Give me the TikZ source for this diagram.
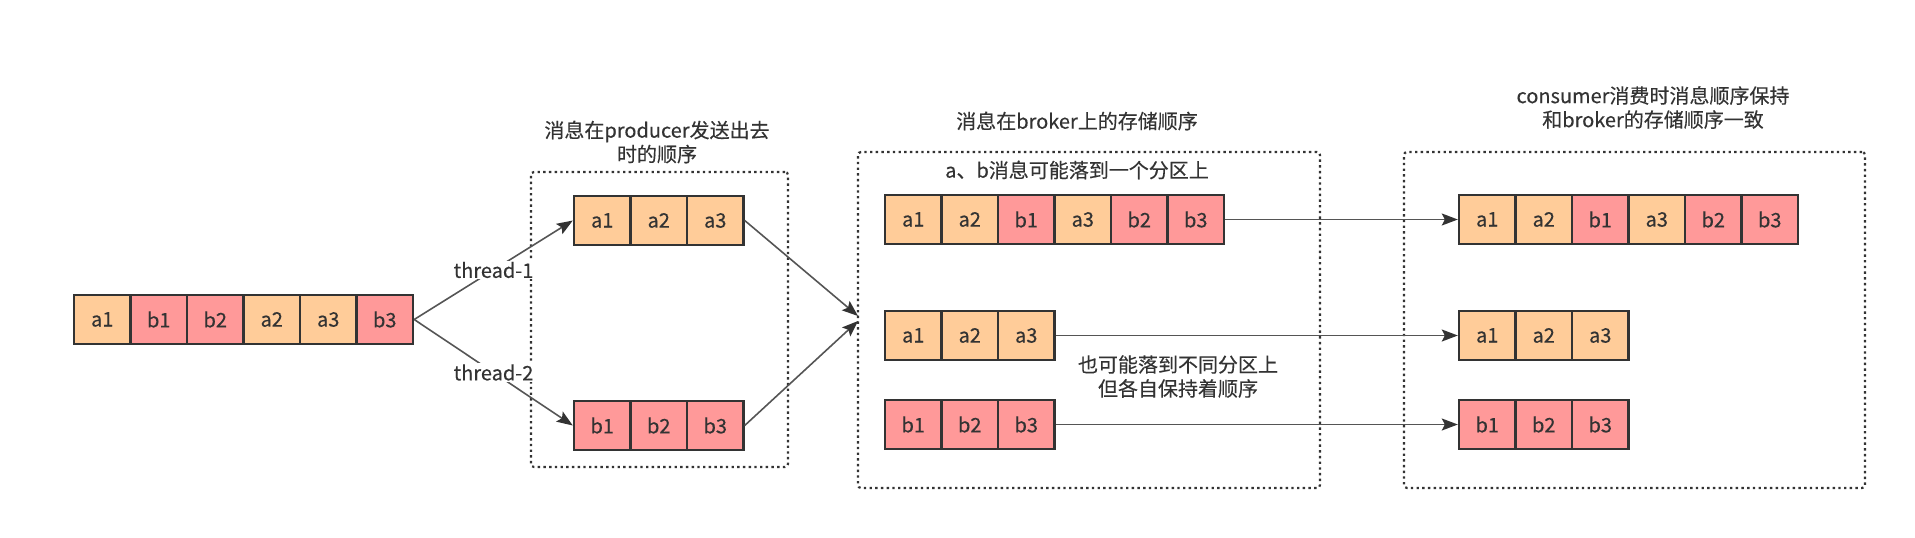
\documentclass[tikz,border=0pt]{standalone}
\usepackage{fontspec}
\setmainfont{Noto Sans CJK SC}[FakeBold=0.3]
\usetikzlibrary{arrows.meta}
\definecolor{ca}{HTML}{FFCC99}
\definecolor{cb}{HTML}{FF9999}
\definecolor{ink}{HTML}{333333}
\definecolor{edge}{HTML}{555555}

% a row of message cells: prefix, left x, top y, list of colour/label
\newcommand\cellrow[4]{%
  \foreach \t/\lab [count=\i] in {#4} {
    \node[cell, fill=\t] (#1\i) at ({#2+(\i-0.5)*56.5}, {#3+24.5}) {\lab};
  }%
}

\begin{document}
\begin{tikzpicture}[x=1pt, y=-1pt,
  cell/.style={draw=ink, line width=2.4pt, minimum width=56.5pt, minimum height=49pt,
    inner sep=0pt, text=ink, font=\fontsize{20}{24}\selectfont},
  zone/.style={draw=ink, line width=2.2pt, dash pattern=on 2.4pt off 3.3pt,
    rounded corners=3pt, inner sep=0pt},
  lbl/.style={text=ink, font=\fontsize{20}{24}\selectfont, align=center, inner sep=1pt},
  fork/.style={draw=edge, line width=1.6pt},
  flow/.style={fork, -{Stealth[length=16pt, width=12pt, inset=3pt, color=ink]}}]

\useasboundingbox (0,0) rectangle (1915,538);

% dotted group frames
\node[zone, minimum width=257pt, minimum height=295pt] (prodzone) at (659.5,319.5) {};
\node[zone, minimum width=462pt, minimum height=336pt] (brokerzone) at (1089,320) {};
\node[zone, minimum width=461pt, minimum height=336pt] (conszone) at (1634.5,320) {};

% group titles and notes
\node[lbl] (prodtitle) at (657,142) {消息在producer发送出去\\时的顺序};
\node[lbl] (brokertitle) at (1077,121) {消息在broker上的存储顺序};
\node[lbl] (constitle) at (1653,107.5) {consumer消费时消息顺序保持\\和broker的存储顺序一致};
\node[lbl] (samepart) at (1077,170) {a、b消息可能落到一个分区上};
\node[lbl] (diffpart) at (1178,376.5) {也可能落到不同分区上\\但各自保持着顺序};

% message rows
\cellrow{src}{74}{295}{ca/a1, cb/b1, cb/b2, ca/a2, ca/a3, cb/b3}
\cellrow{pa}{574}{196}{ca/a1, ca/a2, ca/a3}
\cellrow{pb}{574}{401}{cb/b1, cb/b2, cb/b3}
\cellrow{br}{885}{195}{ca/a1, ca/a2, cb/b1, ca/a3, cb/b2, cb/b3}
\cellrow{bra}{885}{311}{ca/a1, ca/a2, ca/a3}
\cellrow{brb}{885}{400}{cb/b1, cb/b2, cb/b3}
\cellrow{co}{1459}{195}{ca/a1, ca/a2, cb/b1, ca/a3, cb/b2, cb/b3}
\cellrow{coa}{1459}{311}{ca/a1, ca/a2, ca/a3}
\cellrow{cob}{1459}{400}{cb/b1, cb/b2, cb/b3}

% producer threads
\draw[flow] (src6.east) -- node[lbl, fill=white] (t1) {thread-1} (pa1.west);
\draw[flow] (src6.east) -- node[lbl, fill=white] (t2) {thread-2} (pb1.west);

% into the broker
\coordinate (inA) at (858,316);
\coordinate (inB) at (858,321);
\draw[flow] (pa3.east) -- (inA);
\draw[flow] (pb3.east) -- (inB);

% consumed in stored order
\draw[flow] (br6.east) -- (co1.west);
\draw[flow] (bra3.east) -- (coa1.west);
\draw[flow] (brb3.east) -- (cob1.west);
\end{tikzpicture}
\end{document}
